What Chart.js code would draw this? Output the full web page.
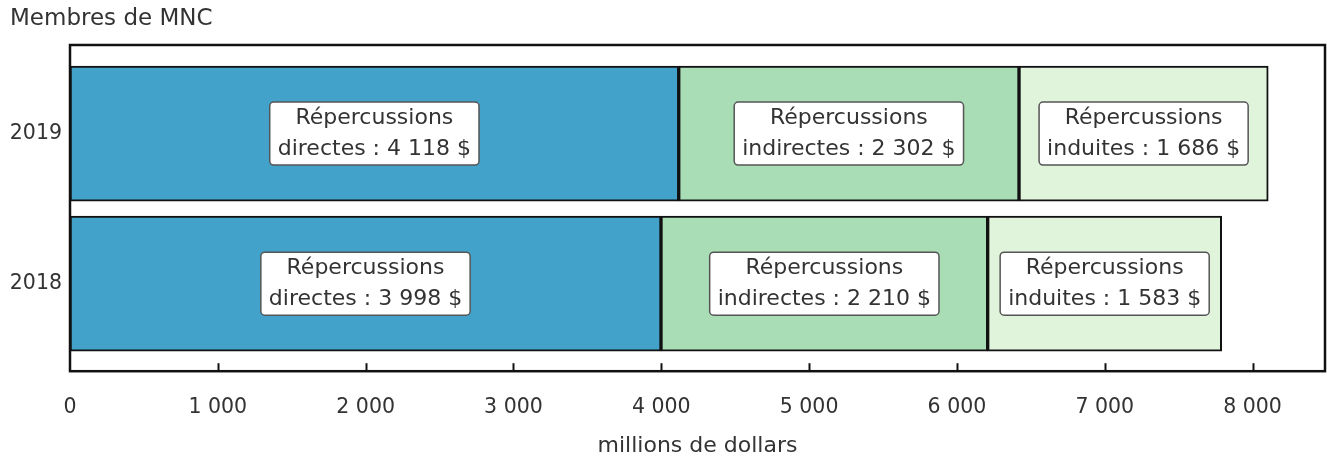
<!DOCTYPE html>
<html>
<head>
<meta charset="utf-8">
<script src="https://cdn.jsdelivr.net/npm/chart.js@4"></script>
<style>
  html, body { margin: 0; padding: 0; background: #fff; }
  #wrap { width: 1327px; height: 459px; }
</style>
</head>
<body>
<div id="wrap"><canvas id="myChart"></canvas></div>
<script>
// data of the chart
const years = ["2019", "2018"];
const seriesNames = ["directes", "indirectes", "induites"];
const directValues = [4118, 3998];
const indirectValues = [2302, 2210];
const inducedValues = [1686, 1583];
const xTicks = [0, 1000, 2000, 3000, 4000, 5000, 6000, 7000, 8000];

// colours
const palette = ["#43a2ca", "#a8ddb5", "#e0f3db"];
const textColor = "#333";
const fontFamily = "'DejaVu Sans', Verdana, sans-serif";

Chart.defaults.font.family = fontFamily;
Chart.defaults.color = textColor;

// function:: number with space as thousands separator
function fmt(v) {
  return String(v).replace(/\B(?=(\d{3})+(?!\d))/g, " ");
}

// build the datasets from the arrays
const seriesValues = [directValues, indirectValues, inducedValues];
const datasets = seriesValues.map((values, s) => ({
  label: seriesNames[s],
  data: values.map((v, i) => ({ x: v, y: i })),
  backgroundColor: palette[s],
  borderColor: "#111",
  borderWidth: 2,
  borderSkipped: false,
  barThickness: 135,
}));

// plugin:: frame, inner tick marks and the value boxes
const framePlugin = {
  id: "frameAndLabels",
  afterDatasetsDraw(chart) {
    const { ctx, chartArea: a, scales } = chart;
    ctx.save();

    // frame
    ctx.strokeStyle = "#111";
    ctx.lineWidth = 2.5;
    ctx.strokeRect(a.left, a.top, a.right - a.left, a.bottom - a.top);

    // tick marks pointing inside
    ctx.lineWidth = 2;
    scales.x.ticks.forEach((t) => {
      if (t.value === 0) return;
      const px = Math.round(scales.x.getPixelForValue(t.value)) + 0.5;
      ctx.beginPath();
      ctx.moveTo(px, a.bottom);
      ctx.lineTo(px, a.bottom - 8);
      ctx.stroke();
    });

    // value boxes
    ctx.font = "22px " + fontFamily;
    ctx.textAlign = "center";
    ctx.textBaseline = "middle";
    chart.data.datasets.forEach((ds, s) => {
      chart.getDatasetMeta(s).data.forEach((bar, i) => {
        const lines = ["Répercussions", seriesNames[s] + " : " + fmt(seriesValues[s][i]) + " $"];
        const cx = (bar.x + bar.base) / 2;
        const cy = bar.y;
        const w = Math.max(...lines.map((l) => ctx.measureText(l).width)) + 16;
        const h = 63;
        ctx.beginPath();
        ctx.roundRect(cx - w / 2, cy - h / 2, w, h, 4);
        ctx.fillStyle = "#fff";
        ctx.fill();
        ctx.strokeStyle = "#555";
        ctx.lineWidth = 1.5;
        ctx.stroke();
        ctx.fillStyle = textColor;
        ctx.fillText(lines[0], cx, cy - 15);
        ctx.fillText(lines[1], cx, cy + 16);
      });
    });

    ctx.restore();
  },
};

new Chart(document.getElementById("myChart"), {
  type: "bar",
  data: { datasets },
  options: {
    indexAxis: "y",
    responsive: true,
    maintainAspectRatio: false,
    animation: false,
    layout: { padding: { left: 10, right: 2, top: 0, bottom: 0 } },
    plugins: {
      legend: { display: false },
      tooltip: { enabled: false },
      title: {
        display: true,
        text: "Membres de MNC",
        align: "start",
        color: textColor,
        font: { size: 23, weight: "normal" },
        padding: { top: 5, bottom: 12.4 },
      },
    },
    scales: {
      x: {
        type: "linear",
        stacked: true,
        min: 0,
        max: 8490,
        afterBuildTicks: (scale) => {
          scale.ticks = xTicks.map((v) => ({ value: v }));
        },
        grid: { display: false, drawTicks: false },
        border: { display: false },
        ticks: {
          padding: 24,
          font: { size: 20.5 },
          color: textColor,
          maxRotation: 0,
          callback: (v) => fmt(v),
        },
        title: {
          display: true,
          text: "millions de dollars",
          color: textColor,
          font: { size: 22 },
          padding: { top: -11.2, bottom: 0 },
        },
      },
      y: {
        type: "linear",
        stacked: true,
        offset: false,
        reverse: true,
        min: -0.59,
        max: 1.583,
        afterBuildTicks: (scale) => {
          scale.ticks = years.map((_, i) => ({ value: i }));
        },
        afterFit: (scale) => {
          scale.width = 60;
        },
        grid: { display: false, drawTicks: false },
        border: { display: false },
        ticks: {
          padding: 8,
          font: { size: 20.5 },
          color: textColor,
          callback: (v) => years[v],
        },
      },
    },
  },
  plugins: [framePlugin],
});
</script>
</body>
</html>
